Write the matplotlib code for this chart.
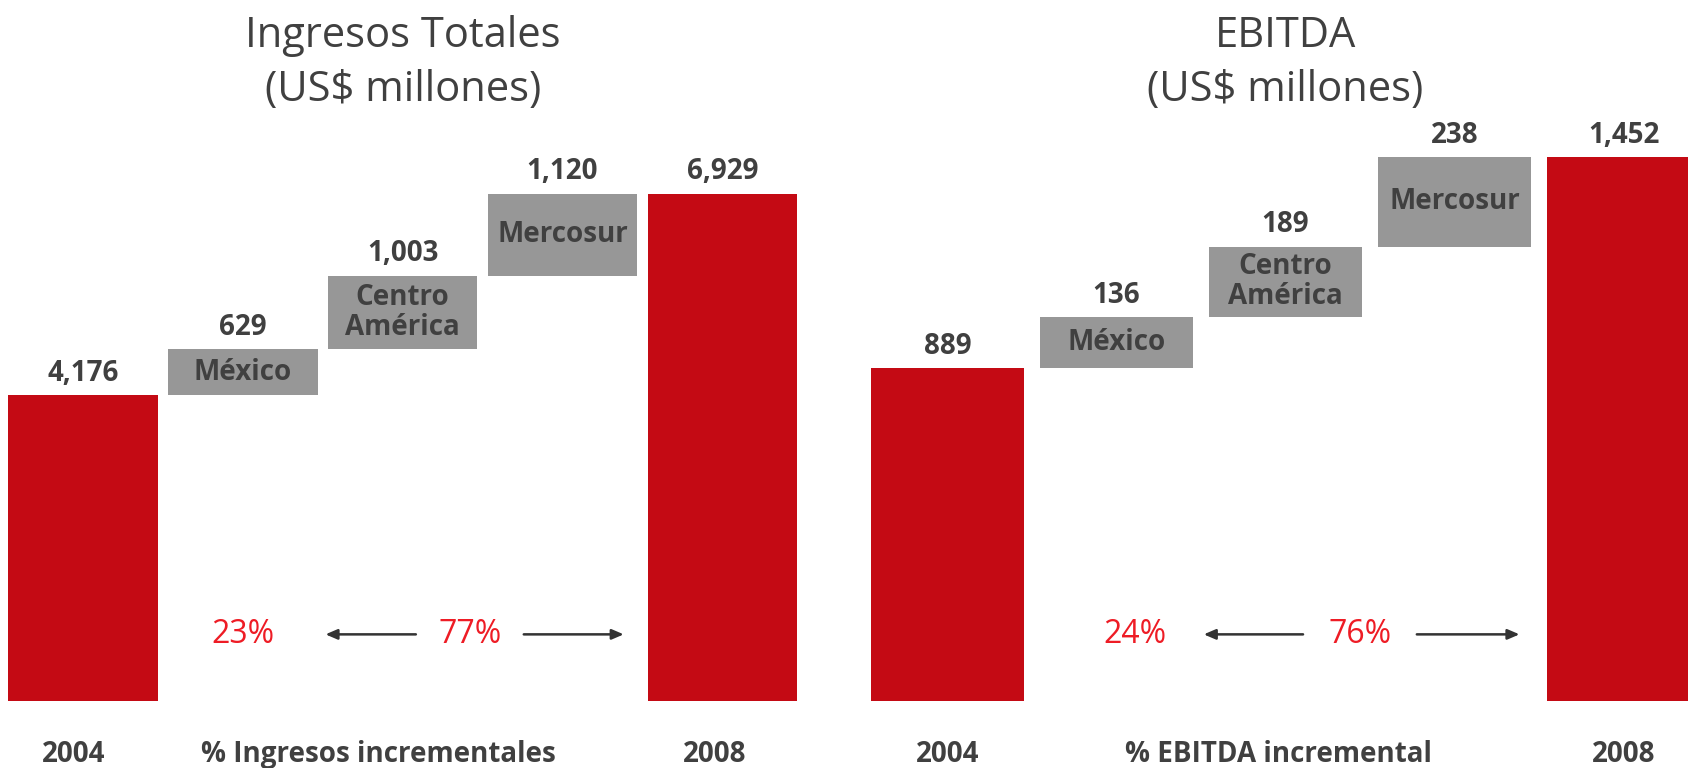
import matplotlib
matplotlib.use("Agg")
import matplotlib.pyplot as plt
import matplotlib.transforms as mtransforms

plt.rcParams['font.family'] = ['Open Sans', 'DejaVu Sans']

# datos
categorias = ['2004', 'México', 'Centro\nAmérica', 'Mercosur', '2008']
ingresos = [4176, 629, 1003, 1120, 6929]
ebitda = [889, 136, 189, 238, 1452]
etiquetas_ing = ['4,176', '629', '1,003', '1,120', '6,929']
etiquetas_ebitda = ['889', '136', '189', '238', '1,452']
pct_ing = ['23%', '77%']
pct_ebitda = ['24%', '76%']
pie_ing = ['2004', '% Ingresos incrementales', '2008']
pie_ebitda = ['2004', '% EBITDA incremental', '2008']

ROJO = '#C40A14'
GRIS = '#979797'
TEXTO = '#404040'
ROJO_TXT = '#EE1C25'


def cascada(ax, valores, etiquetas, titulo, pct, pie, ancho, ylim, xlim, pct_x, pie_x):
    bottoms = [0]
    acum = valores[0]
    for v in valores[1:-1]:
        bottoms.append(acum)
        acum += v
    bottoms.append(0)
    colores = [ROJO] + [GRIS] * (len(valores) - 2) + [ROJO]
    x = list(range(len(valores)))
    ax.bar(x, valores, bottom=bottoms, width=ancho, color=colores)
    for i, (v, b, e) in enumerate(zip(valores, bottoms, etiquetas)):
        ax.annotate(e, (i, v + b), xytext=(0, 16), textcoords='offset points',
                    ha='center', va='center', fontsize=20, fontweight='bold', color=TEXTO)
        if 0 < i < len(valores) - 1:
            ax.text(i, b + v / 2, categorias[i], ha='center', va='center', fontsize=20,
                    fontweight='bold', color=TEXTO, linespacing=1.05)
    ax.set_xlim(*xlim)
    ax.set_ylim(*ylim)
    ax.axis('off')

    tr = mtransforms.blended_transform_factory(ax.transData, ax.transAxes)
    ax.text(2, 0.918, titulo, transform=tr, ha='center', va='center', fontsize=30,
            color=TEXTO, linespacing=1.35)
    # porcentajes y flechas
    ax.text(pct_x[0], 0.174, pct[0], transform=tr, ha='center', va='center',
            fontsize=23, color=ROJO_TXT)
    ax.text(pct_x[1], 0.174, pct[1], transform=tr, ha='center', va='center',
            fontsize=23, color=ROJO_TXT)
    flecha = dict(arrowstyle='-|>,head_length=0.7,head_width=0.3', color='#333333', lw=1.8)
    ax.annotate('', xy=(1.5, 0.174), xytext=(pct_x[1] - 0.32, 0.174), xycoords=tr,
                textcoords=tr, arrowprops=flecha)
    ax.annotate('', xy=(3.4, 0.174), xytext=(pct_x[1] + 0.32, 0.174), xycoords=tr,
                textcoords=tr, arrowprops=flecha)
    # etiquetas inferiores
    for xp, t in zip(pie_x, pie):
        ax.text(xp, 0.018, t, transform=tr, ha='center', va='center', fontsize=20,
                fontweight='bold', color=TEXTO)


fig = plt.figure(figsize=(16.88, 7.68), dpi=100)
ax1 = fig.add_axes([0, 0, 0.5, 1])
ax2 = fig.add_axes([0.5, 0, 0.5, 1])

cascada(ax1, ingresos, etiquetas_ing, 'Ingresos Totales\n(US$ millones)', pct_ing, pie_ing,
        0.936, (-912, 9576), (-0.518, 4.76), (1.0, 2.42), (-0.06, 1.85, 3.95))
cascada(ax2, ebitda, etiquetas_ebitda, 'EBITDA\n(US$ millones)', pct_ebitda, pie_ebitda,
        0.905, (-178, 1872), (-0.611, 4.38), (1.11, 2.44), (0, 1.96, 4))

fig.savefig('out.png', dpi=100, facecolor='white')
